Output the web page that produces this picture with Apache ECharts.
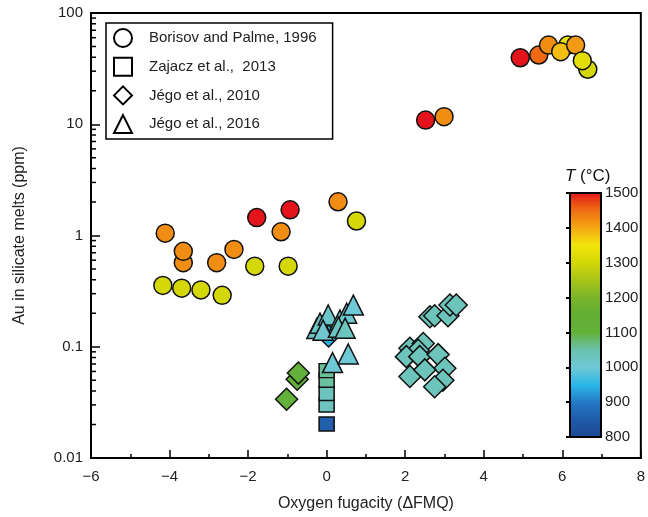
<!DOCTYPE html>
<html>
<head>
<meta charset="utf-8">
<script src="https://cdn.jsdelivr.net/npm/echarts@6/dist/echarts.min.js"></script>
<style>
  html, body { margin: 0; padding: 0; background: #fff; }
  #chart { width: 648px; height: 517px; }
</style>
</head>
<body>
<div id="chart"></div>
<script>
// [fO2 (ΔFMQ), Au (ppm), T (°C)]
const borisov = [
  [-3.65, 0.57, 1420], [-3.65, 0.72, 1420], [-4.11, 1.05, 1420], [-2.80, 0.57, 1420],
  [-2.36, 0.75, 1420], [-1.78, 1.45, 1500], [-1.16, 1.08, 1420], [-0.93, 1.70, 1500],
  [-1.83, 0.53, 1300], [-0.98, 0.53, 1300], [-4.17, 0.356, 1300], [-3.69, 0.336, 1300],
  [-3.20, 0.324, 1300], [-2.66, 0.29, 1300], [0.29, 2.01, 1420], [0.76, 1.35, 1300],
  [2.52, 10.9, 1500], [2.99, 11.7, 1420], [4.93, 39.6, 1500], [5.40, 41.9, 1450],
  [5.65, 51.5, 1420], [6.14, 51.5, 1330], [5.96, 44.9, 1380], [6.34, 51.5, 1410],
  [6.65, 31.2, 1300], [6.51, 37.3, 1325]
];
const zajacz = [
  [0, 0.0202, 860], [0, 0.030, 1030], [0, 0.038, 1030], [0, 0.050, 1055], [0, 0.061, 1060]
];
const jego2010 = [
  [-1.02, 0.0337, 1100], [-0.75, 0.051, 1100], [-0.72, 0.058, 1100], [0.05, 0.125, 945],
  [2.63, 0.186, 1035], [2.75, 0.19, 1035], [3.09, 0.19, 1035], [3.14, 0.237, 1035], [3.30, 0.237, 1035],
  [2.12, 0.097, 1035], [2.46, 0.107, 1035], [2.33, 0.093, 1035], [2.03, 0.0815, 1035],
  [2.37, 0.0815, 1035], [2.84, 0.085, 1035], [3.01, 0.064, 1035], [2.12, 0.054, 1035],
  [2.50, 0.062, 1035], [2.96, 0.050, 1035], [2.75, 0.0437, 1035]
];
const jego2016 = [
  [-0.25, 0.146, 1025], [-0.17, 0.163, 1025], [0.04, 0.193, 1015], [-0.09, 0.141, 1010],
  [0.34, 0.174, 1025], [0.51, 0.2, 1010], [0.30, 0.15, 1025], [0.47, 0.147, 1030],
  [0.68, 0.237, 1000], [0.15, 0.072, 1000], [0.55, 0.086, 1000]
];
const seriesNames = ['Borisov and Palme, 1996', 'Zajacz et al.,  2013', 'Jégo et al., 2010', 'Jégo et al., 2016'];
const tempTicks = [800, 1500];
const yMinorTicks = [
  0.02, 0.03, 0.04, 0.05, 0.06, 0.07, 0.08, 0.09,
  0.2, 0.3, 0.4, 0.5, 0.6, 0.7, 0.8, 0.9,
  2, 3, 4, 5, 6, 7, 8, 9,
  20, 30, 40, 50, 60, 70, 80, 90
];
// colour scale, 800 -> 1500 every 50 °C
const tempColors = [
  '#1c4796', '#1f5aa8', '#2577c4', '#2ab6e8', '#6ec8d6', '#6cc2ae', '#63b13a', '#63ae32',
  '#7ab42a', '#a8c418', '#d4d808', '#f2e40c', '#f4a514', '#ef6a12', '#e4141c'
];

const font = 'Liberation Sans, Arial, sans-serif';
const chart = echarts.init(document.getElementById('chart'));

const barStops = tempColors.map((c, i) => ({ offset: 1 - i / (tempColors.length - 1), color: c }));

function scatter(name, data, symbol, size) {
  return {
    name: name,
    type: 'scatter',
    data: data,
    symbol: symbol,
    symbolSize: size,
    itemStyle: { borderColor: '#111', borderWidth: 1.5, opacity: 1 },
    emphasis: { disabled: true }
  };
}

chart.setOption({
  animation: false,
  textStyle: { fontFamily: font },
  title: {
    text: '{i|T} (°C)',
    left: 560,
    top: 163,
    textStyle: {
      fontSize: 17, fontWeight: 'normal', color: '#111', fontFamily: font,
      rich: { i: { fontSize: 17, fontStyle: 'italic', color: '#111', fontFamily: font } }
    }
  },
  legend: {
    orient: 'vertical',
    left: 106,
    top: 23,
    padding: [5, 16, 5, 7],
    itemGap: 8.7,
    itemWidth: 18,
    itemHeight: 18,
    backgroundColor: '#fff',
    borderColor: '#000',
    borderWidth: 1.5,
    selectedMode: false,
    itemStyle: { color: '#fff', borderColor: '#000', borderWidth: 2 },
    textStyle: { fontSize: 15, color: '#222', fontFamily: font, padding: [0, 0, 0, 12] },
    data: [
      { name: seriesNames[0], icon: 'circle' },
      { name: seriesNames[1], icon: 'rect' },
      { name: seriesNames[2], icon: 'diamond' },
      { name: seriesNames[3], icon: 'triangle' }
    ]
  },
  visualMap: {
    show: false,
    type: 'continuous',
    min: tempTicks[0],
    max: tempTicks[1],
    dimension: 2,
    seriesIndex: [0, 1, 2, 3],
    inRange: { color: tempColors }
  },
  grid: [
    { left: 91, right: 6, top: 13, bottom: 59, show: true, borderColor: '#000', borderWidth: 2, backgroundColor: 'transparent' },
    {
      left: 570, top: 193, width: 31, height: 244, show: true,
      borderColor: '#000', borderWidth: 2,
      backgroundColor: new echarts.graphic.LinearGradient(0, 0, 0, 1, barStops.slice().reverse())
    }
  ],
  xAxis: [
    {
      type: 'value', min: -6, max: 8, interval: 2,
      name: 'Oxygen fugacity (ΔFMQ)', nameLocation: 'middle', nameGap: 38,
      nameTextStyle: { fontSize: 16, color: '#222', fontFamily: font },
      axisLine: { onZero: false, lineStyle: { color: '#000', width: 2 } },
      axisTick: { inside: true, length: 8, lineStyle: { color: '#000', width: 1.5 } },
      minorTick: { show: true, splitNumber: 2, length: 4, lineStyle: { color: '#000', width: 1.5 } },
      axisLabel: { fontSize: 15, color: '#222', margin: 11, fontFamily: font, formatter: v => String(v).replace('-', '−') },
      splitLine: { show: false }
    },
    { gridIndex: 1, type: 'value', show: false, min: 0, max: 1 }
  ],
  yAxis: [
    {
      type: 'log', logBase: 10, min: 0.01, max: 100,
      name: 'Au in silicate melts (ppm)', nameLocation: 'middle', nameGap: 63,
      nameTextStyle: { fontSize: 16, color: '#222', fontFamily: font },
      axisLine: { onZero: false, lineStyle: { color: '#000', width: 2 } },
      axisTick: { inside: true, length: 9, lineStyle: { color: '#000', width: 1.5 } },
      axisLabel: { fontSize: 15, color: '#222', margin: 8, fontFamily: font },
      splitLine: { show: false }
    },
    {
      gridIndex: 1, type: 'value', min: 800, max: 1500, interval: 100, position: 'right',
      axisLine: { show: false },
      axisTick: { inside: true, length: 4, lineStyle: { color: '#000', width: 2 } },
      axisLabel: { fontSize: 15, color: '#222', margin: 4, fontFamily: font, formatter: v => String(v) },
      splitLine: { show: false }
    }
  ],
  series: [
    scatter(seriesNames[0], borisov, 'circle', 18),
    scatter(seriesNames[1], zajacz, 'rect', [15, 14]),
    scatter(seriesNames[2], jego2010, 'diamond', 22),
    scatter(seriesNames[3], jego2016, 'triangle', 20),
    {
      type: 'custom',
      silent: true,
      data: yMinorTicks.map(v => [-6, v]),
      renderItem: function (params, api) {
        const p = api.coord([api.value(0), api.value(1)]);
        return {
          type: 'line',
          shape: { x1: p[0], y1: p[1], x2: p[0] + 5, y2: p[1] },
          style: { stroke: '#000', lineWidth: 1.5 }
        };
      }
    }
  ]
});
</script>
</body>
</html>
